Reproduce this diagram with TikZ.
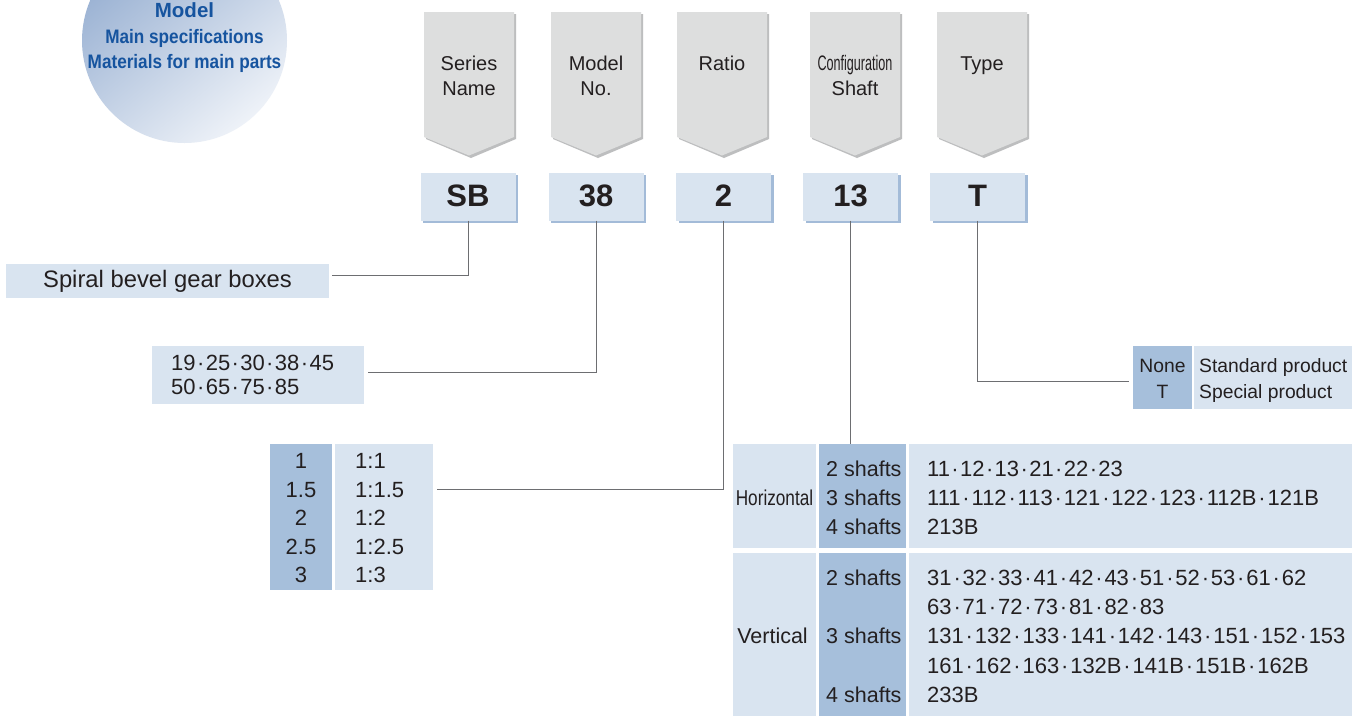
\documentclass[tikz,border=0pt]{standalone}
\usepackage{fontspec}
\setmainfont{Liberation Sans}
\newfontfamily\circfont[FakeStretch=0.88]{Liberation Sans}
\newfontfamily\narrowA[FakeStretch=0.8]{Liberation Sans}
\newfontfamily\narrowB[FakeStretch=0.6]{Liberation Sans}
\usetikzlibrary{shadows}
\definecolor{lblue}{HTML}{D9E4F0}
\definecolor{dblue}{HTML}{A6BFDB}
\definecolor{sblue}{HTML}{A3BBD8}
\definecolor{hgray}{HTML}{DDDEDE}
\definecolor{hshadow}{HTML}{BDBEBF}
\definecolor{lgray}{HTML}{6D6E71}
\definecolor{txtc}{HTML}{231F20}
\definecolor{ctxt}{HTML}{16549F}
\definecolor{circA}{HTML}{98B0D2}
\definecolor{circB}{HTML}{EEF2F8}
\newcommand{\md}{\makebox[0.46em]{·}}
\newcommand{\mdw}{\makebox[0.5em]{·}}
\newcommand{\fsz}[1]{\fontsize{#1}{#1}\selectfont}
\begin{document}
\begin{tikzpicture}[x=1pt,y=-1pt,
  tx/.style={text=txtc,inner sep=0pt},
  codebox/.style={fill=lblue,minimum width=95pt,minimum height=48pt,inner sep=0pt,
    text=txtc,font=\fsz{31}\bfseries,text depth=1pt,
    drop shadow={shadow xshift=2.5pt,shadow yshift=-2.5pt,fill=sblue,opacity=1}},
  cell/.style={fill=lblue,inner sep=0pt},
  dcell/.style={fill=dblue,inner sep=0pt},
  conn/.style={draw=lgray,line width=1pt},
  hdrtext/.style={tx,anchor=base,font=\fsz{20}},
  bodyl/.style={tx,anchor=base west,font=\fsz{22}},
  bodyc/.style={tx,anchor=base,font=\fsz{22}},
  shl/.style={tx,anchor=base west,font=\fsz{21.5}},
  shv/.style={tx,anchor=base west,font=\fsz{22}},
  shc/.style={tx,anchor=base,font=\fsz{21.5}},
  tyl/.style={tx,anchor=base west,font=\fsz{19.3}},
  tyc/.style={tx,anchor=base,font=\fsz{19.3}}]
\useasboundingbox (0,0) rectangle (1365,716);
\fill[white] (0,0) rectangle (1365,716);

% circle
\path[top color=circA,bottom color=circB,shading angle=40] (184.5,40.5) circle[radius=102.5pt];
\node[tx,anchor=base,text=ctxt,font=\fsz{20.5}\bfseries] (c1) at (184.5,17) {Model};
\node[tx,anchor=base,text=ctxt,font=\circfont\fsz{19.5}\bfseries] (c2) at (184.5,43) {Main specifications};
\node[tx,anchor=base,text=ctxt,font=\circfont\fsz{19.5}\bfseries] (c3) at (184.5,68) {Materials for main parts};

% header pentagons
\foreach \cx in {469,596,722,855,982}{
  \fill[hshadow] ({\cx-43},14) -- ({\cx+47},14) -- ({\cx+47},139) -- ({\cx+2},158) -- ({\cx-43},139) -- cycle;
  \fill[hgray] ({\cx-45},12) -- ({\cx+45},12) -- ({\cx+45},137) -- (\cx,155.5) -- ({\cx-45},137) -- cycle;
}
\node[hdrtext] (h1a) at (469,70.5) {Series};
\node[hdrtext] (h1b) at (469,95.5) {Name};
\node[hdrtext] (h2a) at (596,70.5) {Model};
\node[hdrtext] (h2b) at (596,95.5) {No.};
\node[hdrtext] (h3a) at (722,70.5) {Ratio};
\node[hdrtext,font=\narrowB\fsz{21}] (h4a) at (855,70.5) {Configuration};
\node[hdrtext] (h4b) at (855,95.5) {Shaft};
\node[hdrtext] (h5a) at (982,70.5) {Type};

% code boxes
\node[codebox] (sb) at (468,196.5) {SB};
\node[codebox] (mn) at (596,196.5) {38};
\node[codebox] (ra) at (723.5,196.5) {2};
\node[codebox] (cs) at (850.5,196.5) {13};
\node[codebox] (ty) at (977.5,196.5) {T};

% series box
\node[cell,minimum width=323pt,minimum height=34pt,font=\fsz{23.8},text=txtc] (spiral) at (167.5,281) {Spiral bevel gear boxes};

% model numbers box
\node[cell,minimum width=212pt,minimum height=58pt] (models) at (258,375) {};
\node[bodyl] (m1) at (171,370) {19\md25\md30\md38\md45};
\node[bodyl] (m2) at (171,394) {50\md65\md75\md85};

% ratio table
\node[dcell,minimum width=62pt,minimum height=146pt] (rA) at (301,517) {};
\node[cell,minimum width=98pt,minimum height=146pt] (rB) at (384,517) {};
\foreach \y/\a/\b [count=\i] in {468/1/1:1, 497/1.5/1:1.5, 525.5/2/1:2, 554/2.5/1:2.5, 582.7/3/1:3}{
  \node[bodyc] (ra\i) at (301,\y) {\a};
  \node[bodyl] (rb\i) at (355,\y) {\b};
}

% type table
\node[dcell,minimum width=59pt,minimum height=63pt] (tA) at (1162.5,377.5) {};
\node[cell,minimum width=158pt,minimum height=63pt] (tB) at (1273,377.5) {};
\node[tyc] (t1a) at (1162.5,372) {None};
\node[tyc] (t2a) at (1162.5,398) {T};
\node[tyl] (t1b) at (1199,372) {Standard product};
\node[tyl] (t2b) at (1199,398) {Special product};

% shaft table
\node[cell,minimum width=83pt,minimum height=104pt] (s11) at (774.5,496) {};
\node[dcell,minimum width=87pt,minimum height=104pt] (s12) at (862.5,496) {};
\node[cell,minimum width=443pt,minimum height=104pt] (s13) at (1130.5,496) {};
\node[cell,minimum width=83pt,minimum height=163pt] (s21) at (774.5,634.5) {};
\node[dcell,minimum width=87pt,minimum height=163pt] (s22) at (862.5,634.5) {};
\node[cell,minimum width=443pt,minimum height=163pt] (s23) at (1130.5,634.5) {};

\node[shc,font=\narrowA\fsz{21.5}] (hor) at (774.5,505) {Horizontal};
\node[shl] (a1) at (826,476) {2 shafts};
\node[shl] (a2) at (826,505) {3 shafts};
\node[shl] (a3) at (826,534) {4 shafts};
\node[shv] (b1) at (927,476) {11\md12\md13\md21\md22\md23};
\node[shv] (b2) at (927,505) {111\mdw112\mdw113\mdw121\mdw122\mdw123\mdw112B\mdw121B};
\node[shv] (b3) at (927,534) {213B};

\node[shc] (ver) at (772.5,643) {Vertical};
\node[shl] (c4) at (826,585) {2 shafts};
\node[shl] (c5) at (826,643) {3 shafts};
\node[shl] (c6) at (826,702) {4 shafts};
\node[shv] (d1) at (927,585) {31\mdw32\mdw33\mdw41\mdw42\mdw43\mdw51\mdw52\mdw53\mdw61\mdw62};
\node[shv] (d2) at (927,614) {63\mdw71\mdw72\mdw73\mdw81\mdw82\mdw83};
\node[shv] (d3) at (927,643) {131\mdw132\mdw133\mdw141\mdw142\mdw143\mdw151\mdw152\mdw153};
\node[shv] (d4) at (927,673) {161\mdw162\mdw163\mdw132B\mdw141B\mdw151B\mdw162B};
\node[shv] (d5) at (927,702) {233B};

% connectors
\coordinate (spiralin) at (332,275);
\coordinate (modelsin) at (368,372);
\coordinate (ratioin) at (437,489);
\coordinate (shaftin) at (850.5,444);
\coordinate (typein) at (1129,381);
\draw[conn] (sb.south) |- (spiralin);
\draw[conn] (mn.south) |- (modelsin);
\draw[conn] (ra.south) |- (ratioin);
\draw[conn] (cs.south) -- (shaftin);
\draw[conn] (ty.south) |- (typein);
\end{tikzpicture}
\end{document}
